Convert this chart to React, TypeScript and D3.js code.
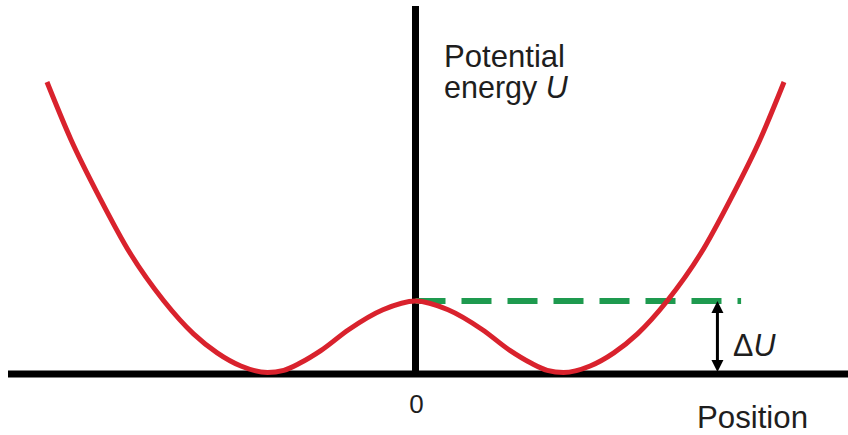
import React from "react";
import * as d3 from "d3";

// Double-well potential energy U(position), read in axis units (wells at ±1, barrier U = 1)
const positions = [
  -2.49, -2.33, -2.13, -1.93, -1.7, -1.5, -1.34, -1.18, -1.0, -0.89, -0.78, -0.64, -0.45, -0.22, 0,
  0.22, 0.45, 0.64, 0.78, 0.89, 1.0, 1.18, 1.34, 1.5, 1.7, 1.93, 2.13, 2.33, 2.49,
];
const energies = [
  4.0, 3.22, 2.4, 1.66, 1.0, 0.55, 0.29, 0.11, 0.02, 0.05, 0.15, 0.32, 0.61, 0.88, 1.0,
  0.88, 0.61, 0.32, 0.15, 0.05, 0.02, 0.11, 0.29, 0.55, 1.0, 1.66, 2.4, 3.22, 4.0,
];

// Barrier height marker (dashed level) and the ΔU arrow
const barrierLevel = [1.0];
const barrierSpan = [0, 2.2];
const arrowPosition = [2.04];
const tickLabels = ["0"];

const W = 848;
const H = 435;

export default function App() {
  const x = d3.scaleLinear().domain([-1, 1]).range([415.5 - 148, 415.5 + 148]);
  const y = d3.scaleLinear().domain([0, 1]).range([374, 301]);

  const pts: [number, number][] = positions.map((p, i) => [p, energies[i]]);
  const line = d3
    .line<[number, number]>()
    .x((d) => x(d[0]))
    .y((d) => y(d[1]))
    .curve(d3.curveMonotoneX);

  const font = "'Liberation Sans', Arial, Helvetica, sans-serif";
  const textColor = "#1e1e1e";
  const ax = x(arrowPosition[0]);
  const yTop = y(barrierLevel[0]);
  const yBot = y(0);
  const head = 12;
  const halfW = 6;

  return (
    <svg
      width={W}
      height={H}
      style={{ position: "absolute", left: 0, top: 0, background: "#fff" }}
      fontFamily={font}
    >
      {/* axes */}
      <line x1={x(0)} x2={x(0)} y1={6} y2={yBot} stroke="#000" strokeWidth={7} />
      <line x1={8} x2={W} y1={yBot} y2={yBot} stroke="#000" strokeWidth={7} />

      {/* barrier level */}
      <line
        x1={x(barrierSpan[0])}
        x2={x(barrierSpan[1])}
        y1={yTop}
        y2={yTop}
        stroke="#1e9a4f"
        strokeWidth={6}
        strokeDasharray="30 16"
      />

      {/* potential curve */}
      <path d={line(pts) || ""} fill="none" stroke="#d9222d" strokeWidth={5} strokeLinecap="butt" />

      {/* ΔU double arrow */}
      <line x1={ax} x2={ax} y1={yTop + head} y2={yBot - head} stroke="#000" strokeWidth={3} />
      <path d={`M${ax},${yTop} L${ax - halfW},${yTop + head} L${ax + halfW},${yTop + head} Z`} fill="#000" />
      <path d={`M${ax},${yBot - 2} L${ax - halfW},${yBot - 2 - head} L${ax + halfW},${yBot - 2 - head} Z`} fill="#000" />

      {/* labels */}
      <text x={444} y={67} fontSize={30.5} fill={textColor} textLength={121} lengthAdjust="spacingAndGlyphs">Potential</text>
      <text x={444} y={98} fontSize={30.5} fill={textColor}>
        energy <tspan fontStyle="italic">U</tspan>
      </text>
      <text x={x(0) + 1} y={413} fontSize={26} fill={textColor} textAnchor="middle">{tickLabels[0]}</text>
      <text x={733} y={356} fontSize={30.5} fill={textColor}>
        Δ<tspan fontStyle="italic">U</tspan>
      </text>
      <text x={697} y={428} fontSize={31} fill={textColor} textLength={111} lengthAdjust="spacingAndGlyphs">Position</text>
    </svg>
  );
}
